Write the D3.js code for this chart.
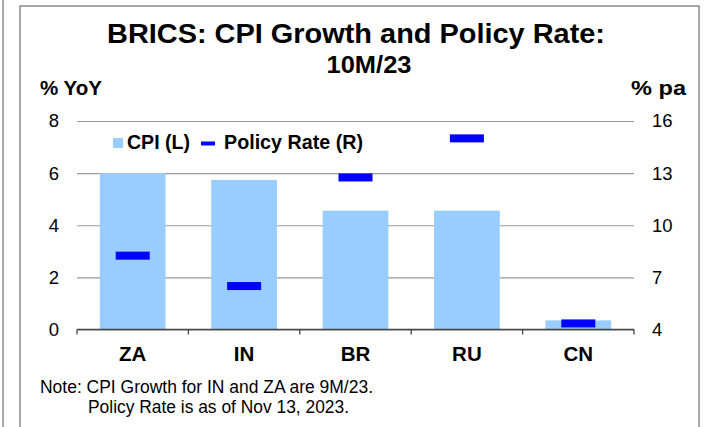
<!DOCTYPE html>
<html>
<head>
<meta charset="utf-8">
<script src="https://cdn.jsdelivr.net/npm/d3@7"></script>
<style>
  html, body { margin: 0; padding: 0; background: #fff; }
  svg { display: block; font-family: Arial, "Liberation Sans", sans-serif; }
</style>
</head>
<body>
<svg id="chart" width="706" height="427"></svg>
<script>
// values
const countries = ['ZA', 'IN', 'BR', 'RU', 'CN'];
const cpi = [6.0, 5.74, 4.56, 4.56, 0.35];
const policyRate = [8.25, 6.5, 12.75, 15.0, 4.35];
const leftTicks = [0, 2, 4, 6, 8];
const rightTicks = [4, 7, 10, 13, 16];

const svg = d3.select('#chart');

// frame
svg.append('line')
  .attr('x1', 3).attr('x2', 3).attr('y1', 0).attr('y2', 427)
  .attr('stroke', '#8c8c8c').attr('stroke-width', 1.5);
svg.append('rect')
  .attr('x', 20).attr('y', 6).attr('width', 679).attr('height', 440)
  .attr('fill', 'none').attr('stroke', '#8c8c8c').attr('stroke-width', 1.5);

const plot = { left: 77, right: 634, top: 121, bottom: 329.5 };

const xScale = d3.scaleBand()
  .domain(countries)
  .range([plot.left, plot.right])
  .paddingInner(0.41)
  .paddingOuter(0.205);

const yLeft = d3.scaleLinear().domain([0, 8]).range([plot.bottom, plot.top]);
const yRight = d3.scaleLinear().domain([4, 16]).range([plot.bottom, plot.top]);

// gridlines + left labels
const leftAxis = d3.axisLeft(yLeft)
  .tickValues(leftTicks)
  .tickSize(-(plot.right - plot.left))
  .tickPadding(18);
const lg = svg.append('g')
  .attr('transform', `translate(${plot.left},0)`)
  .call(leftAxis);
lg.select('.domain').remove();
lg.selectAll('line').attr('stroke', '#9a9a9a').attr('stroke-width', 1.2);
lg.selectAll('text').attr('font-size', 18.5).attr('fill', '#000')
  .attr('font-family', 'Arial, "Liberation Sans", sans-serif');

// right labels
const rightAxis = d3.axisRight(yRight)
  .tickValues(rightTicks)
  .tickSize(0)
  .tickPadding(18);
const rg = svg.append('g')
  .attr('transform', `translate(${plot.right},0)`)
  .call(rightAxis);
rg.select('.domain').remove();
rg.selectAll('text').attr('font-size', 18.5).attr('fill', '#000')
  .attr('font-family', 'Arial, "Liberation Sans", sans-serif');

// bars
svg.append('g').selectAll('rect')
  .data(countries)
  .join('rect')
  .attr('x', d => xScale(d))
  .attr('width', xScale.bandwidth())
  .attr('y', (d, i) => yLeft(cpi[i]))
  .attr('height', (d, i) => yLeft(0) - yLeft(cpi[i]))
  .attr('fill', '#99ccff');

// policy rate markers
const markW = 34, markH = 8;
svg.append('g').selectAll('rect')
  .data(countries)
  .join('rect')
  .attr('x', d => xScale(d) + xScale.bandwidth() / 2 - markW / 2)
  .attr('y', (d, i) => yRight(policyRate[i]) - markH / 2)
  .attr('width', markW)
  .attr('height', markH)
  .attr('fill', '#0000ff');

// x axis
const xAxis = d3.axisBottom(xScale).tickSize(0).tickPadding(17);
const xg = svg.append('g')
  .attr('transform', `translate(0,${plot.bottom})`)
  .call(xAxis);
xg.select('.domain').remove();
xg.selectAll('text')
  .attr('font-size', 20.5).attr('font-weight', 'bold').attr('fill', '#000')
  .attr('font-family', 'Arial, "Liberation Sans", sans-serif');

const step = xScale.step();
const edges = d3.range(countries.length + 1).map(i => plot.left + i * step);
xg.append('line')
  .attr('x1', plot.left).attr('x2', plot.right)
  .attr('y1', 0).attr('y2', 0)
  .attr('stroke', '#444').attr('stroke-width', 1.3);
xg.selectAll('.edge')
  .data(edges)
  .join('line')
  .attr('class', 'edge')
  .attr('x1', d => d).attr('x2', d => d)
  .attr('y1', 0).attr('y2', 5)
  .attr('stroke', '#444').attr('stroke-width', 1.3);

// texts
const addText = (x, y, str, size, bold, len, anchor) => svg.append('text')
  .attr('x', x).attr('y', y)
  .attr('font-size', size)
  .attr('font-weight', bold ? 'bold' : 'normal')
  .attr('text-anchor', anchor || 'start')
  .attr('textLength', len)
  .attr('lengthAdjust', 'spacingAndGlyphs')
  .attr('fill', '#000')
  .text(str);

addText(356, 43, 'BRICS: CPI Growth and Policy Rate:', 27.5, true, 498, 'middle');
addText(369, 73, '10M/23', 24, true, 85, 'middle');
addText(40, 95, '% YoY', 20, true, 62);
addText(631, 95, '% pa', 20.5, true, 55);

// legend
svg.append('rect')
  .attr('x', 113).attr('y', 138).attr('width', 10).attr('height', 10)
  .attr('fill', '#99ccff');
addText(127, 149, 'CPI (L)', 19.5, true, 63);
svg.append('rect')
  .attr('x', 201).attr('y', 141.5).attr('width', 14).attr('height', 4)
  .attr('fill', '#0000ff');
addText(224, 149, 'Policy Rate (R)', 19.5, true, 139);

// note
addText(40, 393, 'Note: CPI Growth for IN and ZA are 9M/23.', 17.5, false, 333);
addText(88, 413, 'Policy Rate is as of Nov 13, 2023.', 17.5, false, 261);
</script>
</body>
</html>
